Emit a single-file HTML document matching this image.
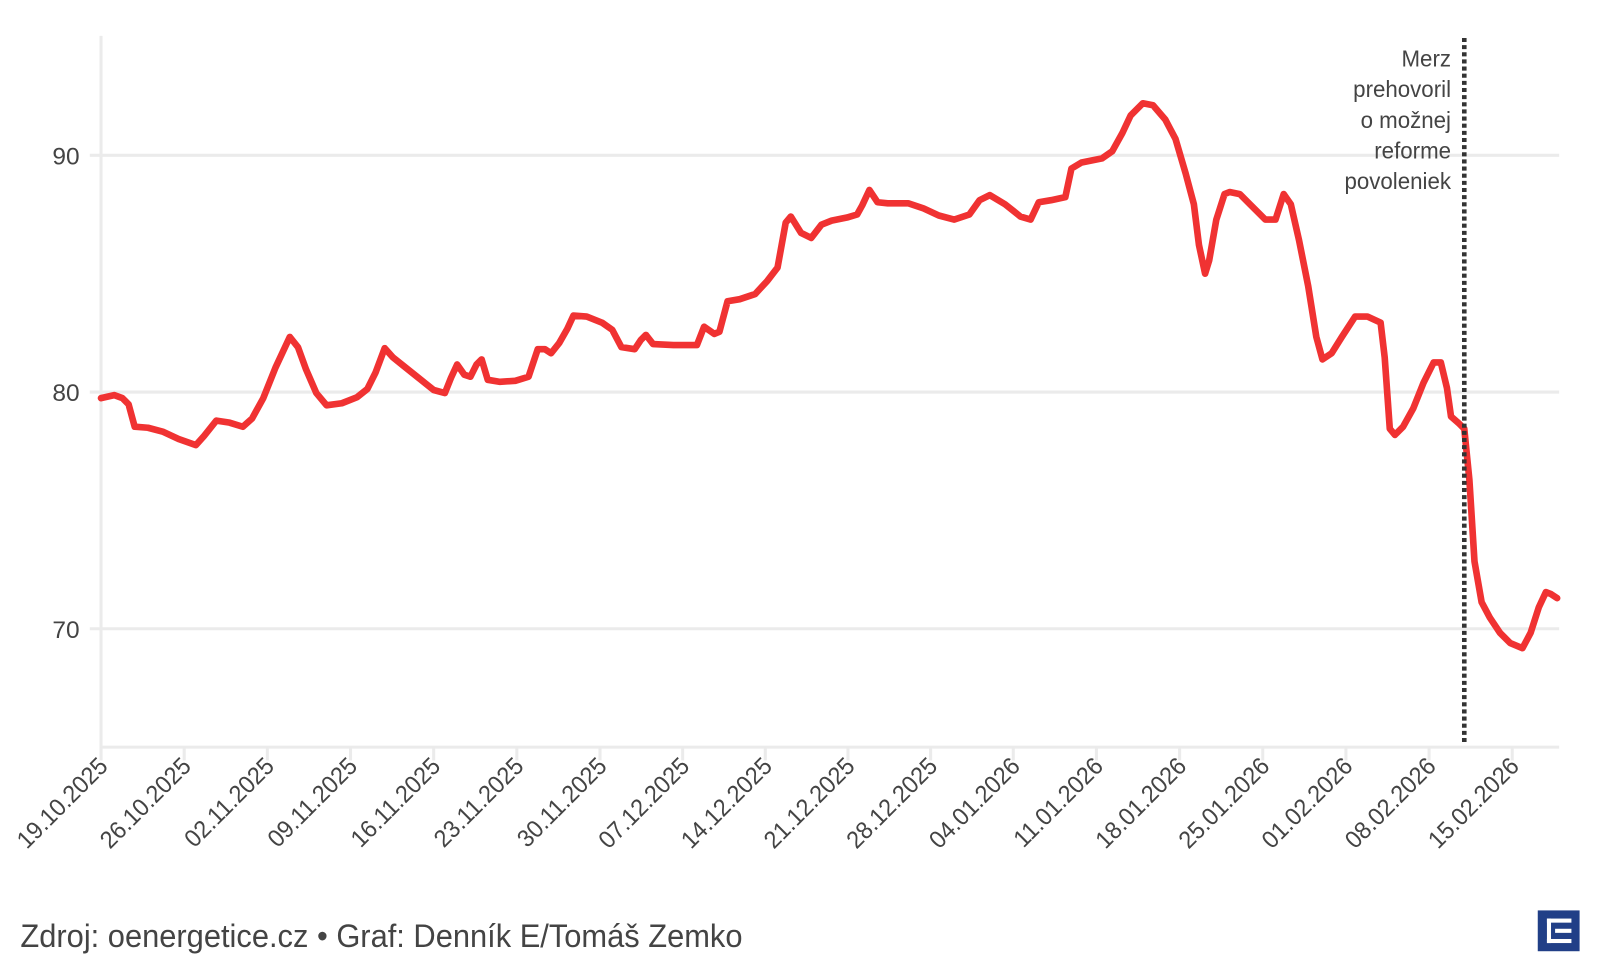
<!DOCTYPE html>
<html><head><meta charset="utf-8"><style>
html,body{margin:0;padding:0;background:#fff;width:1600px;height:980px;overflow:hidden}
svg{display:block}
text{font-family:"Liberation Sans Narrow","Liberation Sans",sans-serif;fill:#444}
</style></head><body>
<svg width="1600" height="980" viewBox="0 0 1568 960" xmlns="http://www.w3.org/2000/svg">
<g stroke="#ebebeb" stroke-width="3">
<line x1="88" y1="152" x2="1528" y2="152"/>
<line x1="88" y1="384" x2="1528" y2="384"/>
<line x1="88" y1="616" x2="1528" y2="616"/>
<line x1="99" y1="35" x2="99" y2="745"/>
<line x1="99" y1="732" x2="1528" y2="732"/>
<g>
<line x1="99" y1="732" x2="99" y2="745"/><line x1="180.5" y1="732" x2="180.5" y2="745"/><line x1="262" y1="732" x2="262" y2="745"/><line x1="343.5" y1="732" x2="343.5" y2="745"/><line x1="425" y1="732" x2="425" y2="745"/><line x1="506.5" y1="732" x2="506.5" y2="745"/><line x1="588" y1="732" x2="588" y2="745"/><line x1="669" y1="732" x2="669" y2="745"/><line x1="750" y1="732" x2="750" y2="745"/><line x1="831" y1="732" x2="831" y2="745"/><line x1="912" y1="732" x2="912" y2="745"/><line x1="993" y1="732" x2="993" y2="745"/><line x1="1074.5" y1="732" x2="1074.5" y2="745"/><line x1="1156" y1="732" x2="1156" y2="745"/><line x1="1237.5" y1="732" x2="1237.5" y2="745"/><line x1="1319" y1="732" x2="1319" y2="745"/><line x1="1400.5" y1="732" x2="1400.5" y2="745"/><line x1="1482" y1="732" x2="1482" y2="745"/>
</g></g>
<g font-size="24" text-anchor="end">
<text x="78" y="161">90</text><text x="78" y="393">80</text><text x="78" y="625">70</text>
</g>
<g font-size="24" text-anchor="end">
<text transform="translate(107,752) rotate(-45) scale(0.95,1)">19.10.2025</text>
<text transform="translate(188.5,752) rotate(-45) scale(0.95,1)">26.10.2025</text>
<text transform="translate(270,752) rotate(-45) scale(0.95,1)">02.11.2025</text>
<text transform="translate(351.5,752) rotate(-45) scale(0.95,1)">09.11.2025</text>
<text transform="translate(433,752) rotate(-45) scale(0.95,1)">16.11.2025</text>
<text transform="translate(514.5,752) rotate(-45) scale(0.95,1)">23.11.2025</text>
<text transform="translate(596,752) rotate(-45) scale(0.95,1)">30.11.2025</text>
<text transform="translate(677,752) rotate(-45) scale(0.95,1)">07.12.2025</text>
<text transform="translate(758,752) rotate(-45) scale(0.95,1)">14.12.2025</text>
<text transform="translate(839,752) rotate(-45) scale(0.95,1)">21.12.2025</text>
<text transform="translate(920,752) rotate(-45) scale(0.95,1)">28.12.2025</text>
<text transform="translate(1001,752) rotate(-45) scale(0.95,1)">04.01.2026</text>
<text transform="translate(1082.5,752) rotate(-45) scale(0.95,1)">11.01.2026</text>
<text transform="translate(1164,752) rotate(-45) scale(0.95,1)">18.01.2026</text>
<text transform="translate(1245.5,752) rotate(-45) scale(0.95,1)">25.01.2026</text>
<text transform="translate(1327,752) rotate(-45) scale(0.95,1)">01.02.2026</text>
<text transform="translate(1408.5,752) rotate(-45) scale(0.95,1)">08.02.2026</text>
<text transform="translate(1490,752) rotate(-45) scale(0.95,1)">15.02.2026</text>
</g>
<polyline fill="none" stroke="#f03232" stroke-width="6.5" stroke-linejoin="round" stroke-linecap="round" points="99,390 112,387 120,390 126,396 132,418 145,419 160,423 175,430 192,436 200,427 212,412 225,414 238,418 247,410 258,390 270,360 284,330 292,340 300,362 310,385 320,397 335,395 350,389 360,381 368,365 377,341 385,350 395,358 410,370 425,382 436,385 442,370 448,357 455,367 461,369 467,357 472,352 478,372 490,374 505,373 518,369 527,342 534,342 540,346 548,336 556,322 562,309 575,310 590,316 600,323 609,340 622,342 628,333 633,328 640,337 660,338 683,338 690,320 700,327 705,325 713,295 725,293 740,288 752,275 762,262 770,218 775,212 785,228 795,233 805,220 815,216 830,213 840,210 845,201 852,186 860,198 870,199 890,199 905,204 920,211 935,215 950,210 960,196 970,191 985,200 1000,212 1010,215 1018,198 1030,196 1044,193 1050,165 1060,159 1080,155 1090,148 1100,130 1108,113 1120,101 1130,103 1142,117 1152,136 1162,170 1170,200 1175,240 1181,268 1185,255 1192,215 1200,190 1205,188 1215,190 1225,200 1240,215 1250,215 1258,190 1265,200 1273,235 1282,280 1290,330 1296,352 1305,346 1315,330 1328,310 1340,310 1353,316 1357,350 1362,420 1367,426 1375,418 1385,400 1395,375 1405,355 1412,355 1418,380 1422,408 1430,415 1435,420 1440,470 1445,550 1452,590 1460,605 1470,620 1480,630 1492,635 1500,620 1508,595 1515,580 1520,582 1526,586"/>
<line x1="1435" y1="37" x2="1435" y2="729" stroke="#333" stroke-width="4.5" stroke-dasharray="4,3"/>
<g font-size="23" text-anchor="end" fill="#333">
<text transform="translate(1422,65) scale(0.95,1)">Merz</text>
<text transform="translate(1422,95) scale(0.95,1)">prehovoril</text>
<text transform="translate(1422,125) scale(0.95,1)">o možnej</text>
<text transform="translate(1422,155) scale(0.95,1)">reforme</text>
<text transform="translate(1422,185) scale(0.95,1)">povoleniek</text>
</g>
<text transform="translate(20,928) scale(0.945,1)" font-size="32" fill="#333">Zdroj: oenergetice.cz • Graf: Denník E/Tomáš Zemko</text>
<rect x="1507" y="892" width="41" height="40" fill="#213f87"/>
<g fill="#fff">
<rect x="1516" y="900" width="4" height="24"/>
<rect x="1516" y="900" width="24" height="4"/>
<rect x="1516" y="920" width="24" height="4"/>
<rect x="1524" y="910" width="16" height="4"/>
</g>
</svg>
</body></html>
